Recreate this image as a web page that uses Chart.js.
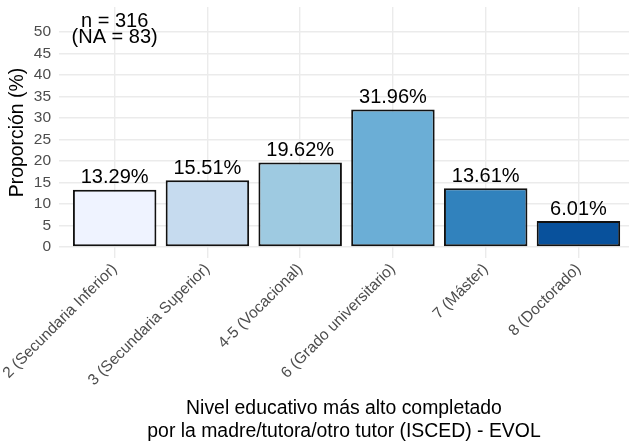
<!DOCTYPE html>
<html><head><meta charset="utf-8">
<script src="https://cdn.jsdelivr.net/npm/chart.js@4/dist/chart.umd.min.js"></script>
<style>html,body{margin:0;padding:0;background:#fff}#wrap{width:629px;height:441px}</style>
</head><body><div id="wrap"><canvas id="c" width="629" height="441"></canvas></div>
<script>
const categories = ["2 (Secundaria Inferior)","3 (Secundaria Superior)","4-5 (Vocacional)","6 (Grado universitario)","7 (Máster)","8 (Doctorado)"];
const values = [13.29, 15.51, 19.62, 31.96, 13.61, 6.01];
const colors = ["#eff3ff","#c6dbef","#9ecae1","#6baed6","#3182bd","#08519c"];
const yTicks = [0,5,10,15,20,25,30,35,40,45,50];
const noteLines = ["n = 316","(NA = 83)"];
const xTitle = ["Nivel educativo más alto completado","por la madre/tutora/otro tutor (ISCED) - EVOL"];
const yTitle = "Proporción (%)";
const FONT = "'Liberation Sans', Arial, sans-serif";

const overlay = {
  id:'overlay',
  afterDatasetsDraw(chart){
    const ctx = chart.ctx, xs = chart.scales.x, ys = chart.scales.y;
    ctx.save();
    ctx.fillStyle = '#000';
    ctx.font = '20px ' + FONT;
    ctx.textAlign = 'center';
    ctx.textBaseline = 'bottom';
    const meta = chart.getDatasetMeta(0);
    meta.data.forEach((bar,i)=>{
      ctx.fillText(values[i].toFixed(2)+'%', bar.x, bar.y - 2);
    });
    ctx.textBaseline = 'middle';
    const nx = xs.getPixelForValue(0);
    ctx.fillText(noteLines[0], nx, ys.getPixelForValue(52.5));
    ctx.fillText(noteLines[1], nx, ys.getPixelForValue(48.6));
    // axis titles
    ctx.font = '19.4px ' + FONT;
    const cx = (chart.chartArea.left + chart.chartArea.right)/2;
    ctx.fillText(xTitle[0], cx, 409);
    ctx.fillText(xTitle[1], cx, 432);
    ctx.translate(18, (chart.chartArea.top+chart.chartArea.bottom)/2);
    ctx.rotate(-Math.PI/2);
    ctx.fillText(yTitle, 0, 0);
    ctx.restore();
  }
};

new Chart(document.getElementById('c'), {
  type:'bar',
  data:{
    datasets:[{
      data: values.map((v,i)=>({x:i,y:v})),
      backgroundColor: colors,
      borderColor:'#111111',
      borderWidth:2,
      borderSkipped:false,
      categoryPercentage:1,
      barPercentage:0.9
    }]
  },
  options:{
    responsive:false,
    animation:false,
    devicePixelRatio:1,
    layout:{padding:{top:7,right:0,left:0,bottom:0}},
    plugins:{legend:{display:false},tooltip:{enabled:false}},
    scales:{
      x:{
        type:'linear',
        offset:false,
        min:-0.6, max:5.545,
        afterBuildTicks(s){ s.ticks = categories.map((c,i)=>({value:i})); },
        afterFit(s){ s.height = 183; s.paddingLeft = 0; s.paddingRight = 0; },
        ticks:{
          callback:(v)=>categories[v],
          minRotation:45, maxRotation:45,
          color:'#4d4d4d',
          font:{family:FONT,size:15.5},
          padding:2,
          autoSkip:false
        },
        grid:{color:'#ebebeb',lineWidth:1.4,drawTicks:false,offset:false},
        border:{display:false}
      },
      y:{
        type:'linear',
        min:-2.6, max:55.8,
        afterBuildTicks(s){ s.ticks = yTicks.map(v=>({value:v})); },
        afterFit(s){ s.width = 59; s.paddingTop = 0; s.paddingBottom = 0; },
        ticks:{
          color:'#4d4d4d',
          font:{family:FONT,size:15.5},
          padding:8
        },
        grid:{color:'#ebebeb',lineWidth:1.4,drawTicks:false},
        border:{display:false}
      }
    }
  },
  plugins:[overlay]
});
</script>
</body></html>
